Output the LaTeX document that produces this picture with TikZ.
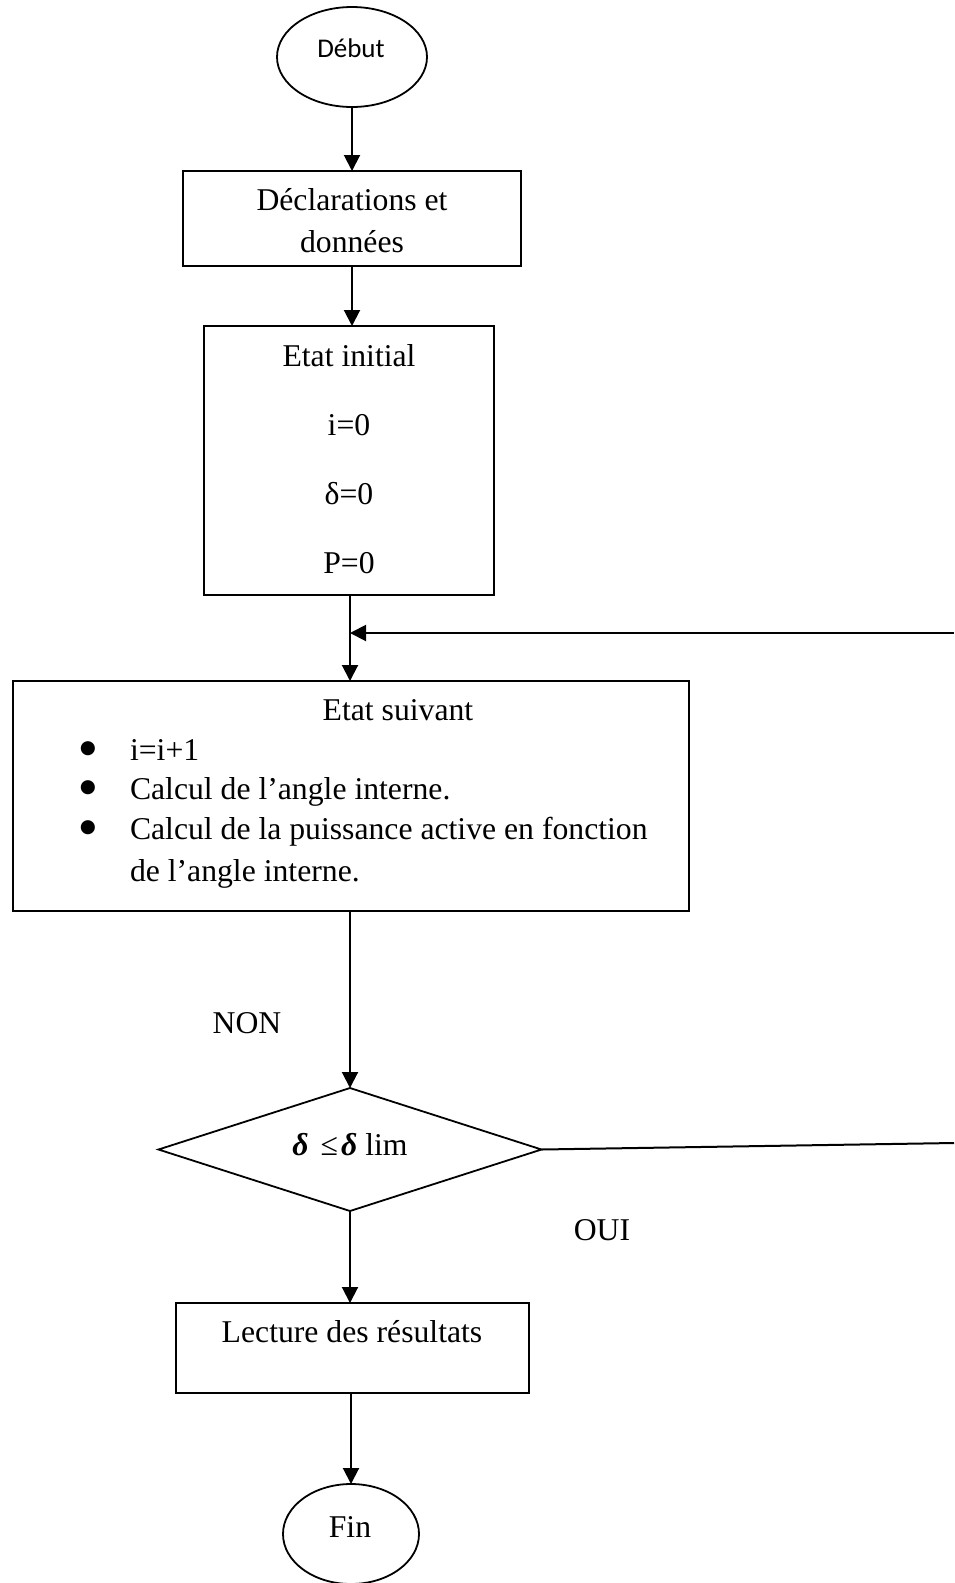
\documentclass[tikz,border=0pt]{standalone}
\usepackage{fontspec}
\setmainfont{Liberation Serif}
\newfontfamily\calibrifont{Carlito}
\newfontfamily\dejavufont{DejaVu Sans}
\usetikzlibrary{shapes.geometric,arrows.meta}
\tikzset{
  every node/.style={inner sep=0pt, outer sep=0pt},
  txt/.style={anchor=base, font=\fontsize{31.7}{40}\selectfont},
  bul/.style={anchor=base, font=\dejavufont\fontsize{18.5}{18.5}\selectfont},
  boxnode/.style={draw, line width=2pt, rectangle},
  ovalnode/.style={draw, line width=1.8pt, ellipse},
  decnode/.style={draw, line width=1.8pt, diamond},
  flow/.style={line width=2pt, -{Triangle[length=16pt,width=16pt]}},
  plainflow/.style={line width=2pt},
}
\begin{document}
\begin{tikzpicture}[x=1pt,y=-1pt]
\useasboundingbox (0,0) rectangle (954,1583);
% shapes
\node[ovalnode, minimum width=150pt, minimum height=100pt] (debut) at (352,57) {};
\node[boxnode, minimum width=338pt, minimum height=95pt] (b1) at (352,218.5) {};
\node[boxnode, minimum width=290pt, minimum height=269pt] (b2) at (349,460.5) {};
\node[boxnode, minimum width=676pt, minimum height=230pt] (b3) at (351,796) {};
\node[decnode, minimum width=383pt, minimum height=123pt] (dia) at (350,1149.5) {};
\node[boxnode, minimum width=353pt, minimum height=90pt] (b4) at (352.5,1348) {};
\node[ovalnode, minimum width=136pt, minimum height=100pt] (fin) at (351,1534) {};
% texts
\node[anchor=base, font=\calibrifont\fontsize{27}{30}\selectfont] (tdebut) at (351,57) {Début};
\node[txt] (t1a) at (352,210) {Déclarations et};
\node[txt] (t1b) at (352,252) {données};
\node[txt] (t2a) at (349,366) {Etat initial};
\node[txt] (t2b) at (349,435) {i=0};
\node[txt] (t2c) at (349,504) {δ=0};
\node[txt] (t2d) at (349,573) {P=0};
\node[txt] (t3a) at (398,720) {Etat suivant};
\node[bul] (bu1) at (88,753) {●};
\node[bul] (bu2) at (88,792) {●};
\node[bul] (bu3) at (88,832) {●};
\node[txt, anchor=base west] (t3b) at (130,760) {i=i+1};
\node[txt, anchor=base west] (t3c) at (130,799) {Calcul de l’angle interne.};
\node[txt, anchor=base west] (t3d) at (130,839) {Calcul de la puissance active en fonction};
\node[txt, anchor=base west] (t3e) at (130,881) {de l’angle interne.};
\node[txt] (tdia) at (350,1155) {{\bfseries\itshape δ}\hspace{12pt}≤\hspace{3pt}{\bfseries\itshape δ} lim};
\node[txt] (t4) at (352,1342) {Lecture des résultats};
\node[txt] (tfin) at (350,1537) {Fin};
\node[txt] (tnon) at (247,1033) {NON};
\node[txt] (toui) at (602,1240) {OUI};
% coordinates
\coordinate (j1) at (350,633);
\coordinate (r1) at (954,633);
\coordinate (r2) at (954,1143);
% connectors
\draw[flow] (debut.south) -- (debut.south |- b1.north);
\draw[flow] (b1.south) -- (b1.south |- b2.north);
\draw[plainflow] (b2.south -| j1) -- (j1);
\draw[flow] (j1) -- (j1 |- b3.north);
\draw[flow] (r1) -- (j1);
\draw[flow] (b3.south -| dia.north) -- (dia.north);
\draw[plainflow] (dia.east) -- (r2);
\draw[flow] (dia.south) -- (dia.south |- b4.north);
\draw[flow] (b4.south -| fin.north) -- (fin.north);
\end{tikzpicture}
\end{document}
